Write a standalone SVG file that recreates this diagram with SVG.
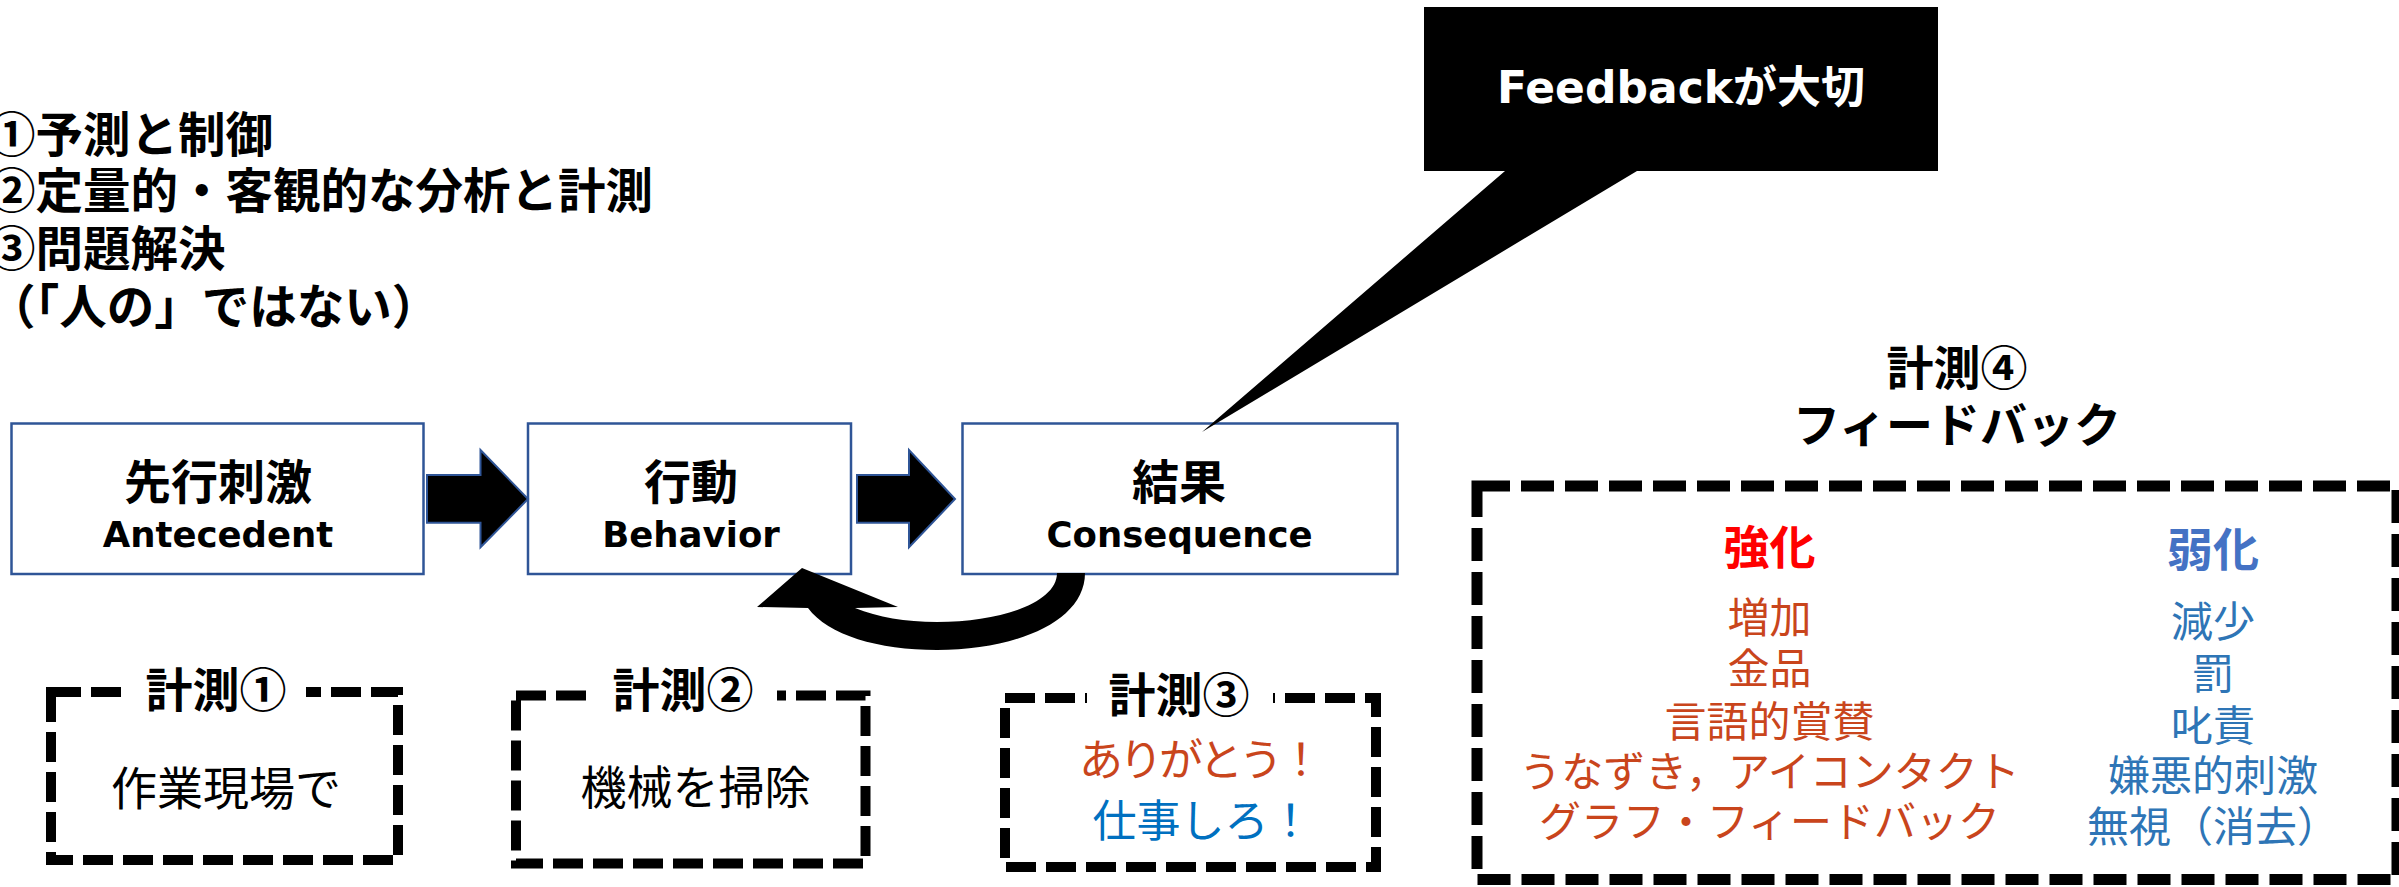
<svg xmlns="http://www.w3.org/2000/svg" width="2399" height="887" viewBox="0 0 2399 887">
<style>
.jp{font-family:"Noto Sans CJK JP","Noto Sans CJK SC",sans-serif}
.b{font-weight:700}
.en{font-family:"DejaVu Sans","Noto Sans CJK JP",sans-serif;font-weight:700}
.box{fill:#fff;stroke:#2F5597;stroke-width:2.5}
.blk{fill:#000;stroke:#2F5597;stroke-width:2}
.dash{fill:none;stroke:#000;stroke-width:10;stroke-dasharray:30 10}
.bigdash{fill:none;stroke:#000;stroke-width:11;stroke-dasharray:33 11}
.red{fill:#C9451C}
.blue{fill:#2E75B6}
.mid{text-anchor:middle}
</style>
<rect width="2399" height="887" fill="#fff"/>

<g id="principles" class="jp b" font-size="47.5">
<text x="-12" y="151.5">①予測と制御</text>
<text x="-12" y="208">②定量的・客観的な分析と計測</text>
<text x="-12" y="265.5">③問題解決</text>
<text x="-12" y="323.5">（「人の」ではない）</text>
</g>

<g id="antecedent">
<rect class="box" x="11.5" y="423.5" width="412" height="150.5"/>
<text class="jp b mid" x="218" y="498.5" font-size="47">先行刺激</text>
<text class="en mid" x="218" y="547" font-size="35.5">Antecedent</text>
</g>
<g id="behavior">
<rect class="box" x="528" y="423.5" width="323" height="150.5"/>
<text class="jp b mid" x="691" y="498.5" font-size="47">行動</text>
<text class="en mid" x="691" y="547" font-size="35.5">Behavior</text>
</g>
<g id="consequence">
<rect class="box" x="962.5" y="423.5" width="435" height="150.5"/>
<text class="jp b mid" x="1179" y="498.5" font-size="47">結果</text>
<text class="en mid" x="1179.5" y="547" font-size="35.5">Consequence</text>
</g>

<g id="connectors">
<polygon class="blk" points="427,475 480.5,475 480.5,450 528,499 480.5,547.3 480.5,522.7 427,522.7"/>
<polygon class="blk" points="857,475 909,475 909,450 955,499 909,547.3 909,522.7 857,522.7"/>
<path fill="#000" d="M1085,573 C1085,622 1015,650 937,650 C878,650 828,635 808,608 L757,607 L802,568 L898,607 L855,608 C878,617 905,622 937,622 C1000,622 1057,603 1057,573 Z"/>
</g>

<g id="callout">
<path fill="#000" d="M1424,7 H1938 V171 H1637 L1202,432 L1505,171 H1424 Z"/>
<text class="en mid" x="1681" y="103" font-size="44" fill="#fff">Feedbackが大切</text>
</g>

<g id="measure1">
<rect class="dash" x="51" y="692" width="347" height="168"/>
<rect fill="#fff" x="122" y="680" width="184" height="24"/>
<text class="jp b mid" x="216" y="706.5" font-size="47">計測①</text>
<text class="jp mid" x="226" y="805" font-size="46">作業現場で</text>
</g>
<g id="measure2">
<rect class="dash" x="516" y="695.5" width="349.5" height="168"/>
<rect fill="#fff" x="589" y="683" width="188" height="25"/>
<text class="jp b mid" x="683" y="706.5" font-size="47">計測②</text>
<text class="jp mid" x="695.5" y="804" font-size="46">機械を掃除</text>
</g>
<g id="measure3">
<rect class="dash" x="1005" y="698" width="371" height="169"/>
<rect fill="#fff" x="1087" y="686" width="186" height="24"/>
<text class="jp b mid" x="1179" y="711.5" font-size="47">計測③</text>
<text class="jp mid red" x="1201" y="776" font-size="44" textLength="244" lengthAdjust="spacing">ありがとう！</text>
<text class="jp mid" x="1202.5" y="837" font-size="44" fill="#0070C0">仕事しろ！</text>
</g>

<g id="measure4-title" class="jp b mid" font-size="47">
<text x="1957" y="384.5">計測④</text>
<text x="1957" y="441.5">フィードバック</text>
</g>

<g id="measure4">
<rect class="bigdash" x="1477" y="486" width="920" height="393.5"/>
<text class="jp b mid" x="1769.5" y="563.5" font-size="46" fill="#FF0000">強化</text>
<text class="jp b mid" x="2213" y="565.5" font-size="46" fill="#4472C4">弱化</text>
<g class="jp mid red" font-size="42">
<text x="1769.5" y="632.5">増加</text>
<text x="1769.5" y="684">金品</text>
<text x="1769.5" y="736.5">言語的賞賛</text>
<text x="1769.5" y="787">うなずき，アイコンタクト</text>
<text x="1769.5" y="837">グラフ・フィードバック</text>
</g>
<g class="jp mid blue" font-size="42">
<text x="2213" y="637">減少</text>
<text x="2213" y="688.5">罰</text>
<text x="2213" y="741">叱責</text>
<text x="2213" y="791">嫌悪的刺激</text>
<text x="2213" y="842">無視（消去）</text>
</g>
</g>
</svg>
